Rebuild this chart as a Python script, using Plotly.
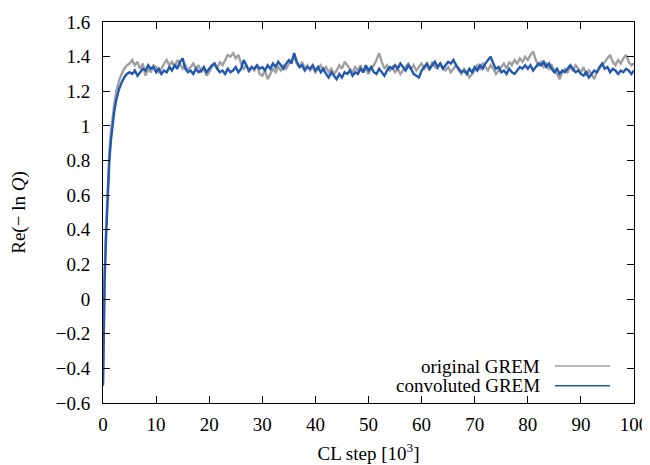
import numpy as np
import plotly.graph_objects as go

# ---- data ----
x_early = [0, 0.3, 0.6, 0.9, 1.2, 1.5, 1.8, 2.1, 2.5, 3.0, 3.5, 4.0, 4.5]
conv_early = [-0.50, 0.10, 0.38, 0.62, 0.80, 0.92, 1.01, 1.08, 1.15, 1.21, 1.25, 1.28, 1.30]
orig_early = [-0.48, 0.14, 0.43, 0.67, 0.85, 0.97, 1.06, 1.12, 1.20, 1.26, 1.30, 1.33, 1.35]

x_plateau = list(np.arange(5.0, 100.01, 0.5))

conv_plateau = [
    1.31, 1.30, 1.32, 1.29, 1.31, 1.33, 1.32, 1.35, 1.33, 1.34,
    1.31, 1.33, 1.30, 1.32, 1.31, 1.34, 1.32, 1.35, 1.33, 1.37,
    1.39, 1.33, 1.31, 1.32, 1.30, 1.33, 1.31, 1.32, 1.34, 1.31,
    1.33, 1.35, 1.36, 1.33, 1.31, 1.32, 1.30, 1.33, 1.31, 1.32,
    1.34, 1.31, 1.33, 1.38, 1.35, 1.32, 1.34, 1.33, 1.35, 1.33,
    1.34, 1.32, 1.35, 1.33, 1.36, 1.34, 1.37, 1.35, 1.33, 1.36,
    1.38, 1.36, 1.42, 1.37, 1.34, 1.35, 1.32, 1.34, 1.33, 1.35,
    1.32, 1.34, 1.31, 1.33, 1.30, 1.28, 1.31, 1.29, 1.27, 1.30,
    1.28, 1.31, 1.30, 1.32, 1.29, 1.31, 1.30, 1.33, 1.31, 1.35,
    1.32, 1.34, 1.31, 1.30, 1.33, 1.31, 1.29, 1.32, 1.34, 1.33,
    1.35, 1.33, 1.36, 1.34, 1.32, 1.35, 1.33, 1.30, 1.29, 1.28,
    1.32, 1.34, 1.36, 1.33, 1.35, 1.37, 1.34, 1.36, 1.33, 1.35,
    1.37, 1.36, 1.38, 1.35, 1.33, 1.31, 1.32, 1.30, 1.33, 1.31,
    1.34, 1.32, 1.35, 1.33, 1.36, 1.38, 1.40, 1.36, 1.33, 1.34,
    1.31, 1.32, 1.30, 1.33, 1.31, 1.30, 1.32, 1.34, 1.33, 1.35,
    1.33, 1.35, 1.32, 1.34, 1.36, 1.35, 1.37, 1.34, 1.36, 1.33,
    1.31, 1.33, 1.30, 1.32, 1.31, 1.33, 1.35, 1.33, 1.31, 1.32,
    1.30, 1.29, 1.31, 1.28, 1.30, 1.32, 1.31, 1.34, 1.36, 1.33,
    1.34, 1.31, 1.33, 1.32, 1.30, 1.32, 1.31, 1.33, 1.32, 1.30,
    1.32,
]

orig_plateau = [
    1.36, 1.38, 1.35, 1.37, 1.33, 1.36, 1.29, 1.33, 1.31, 1.35,
    1.34, 1.31, 1.33, 1.36, 1.38, 1.35, 1.37, 1.34, 1.38, 1.36,
    1.33, 1.35, 1.32, 1.34, 1.36, 1.33, 1.35, 1.31, 1.33, 1.29,
    1.31, 1.34, 1.36, 1.33, 1.37, 1.35, 1.38, 1.41, 1.40, 1.42,
    1.39, 1.41, 1.36, 1.33, 1.35, 1.31, 1.34, 1.32, 1.35, 1.30,
    1.29, 1.32, 1.27, 1.30, 1.33, 1.31, 1.34, 1.32, 1.35, 1.33,
    1.36, 1.38, 1.40, 1.36, 1.34, 1.37, 1.33, 1.35, 1.32, 1.34,
    1.31, 1.33, 1.35, 1.32, 1.34, 1.31, 1.33, 1.30, 1.32, 1.35,
    1.33, 1.37, 1.35, 1.33, 1.31, 1.34, 1.32, 1.35, 1.31, 1.33,
    1.30, 1.33, 1.35, 1.38, 1.42, 1.37, 1.33, 1.35, 1.32, 1.34,
    1.31, 1.33, 1.30, 1.32, 1.34, 1.36, 1.33, 1.35, 1.32, 1.34,
    1.36, 1.33, 1.35, 1.32, 1.37, 1.34, 1.33, 1.36, 1.34, 1.32,
    1.34, 1.31, 1.33, 1.35, 1.32, 1.30, 1.33, 1.31, 1.28, 1.30,
    1.32, 1.35, 1.33, 1.36, 1.34, 1.32, 1.35, 1.33, 1.30, 1.32,
    1.34, 1.36, 1.33, 1.37, 1.35, 1.38, 1.36, 1.39, 1.37, 1.40,
    1.38, 1.41, 1.43, 1.38, 1.35, 1.37, 1.34, 1.36, 1.33, 1.35,
    1.32, 1.30, 1.27, 1.31, 1.33, 1.31, 1.34, 1.32, 1.35, 1.33,
    1.31, 1.34, 1.29, 1.32, 1.30, 1.27, 1.31, 1.33, 1.35, 1.37,
    1.39, 1.41, 1.37, 1.35, 1.38, 1.36, 1.39, 1.41, 1.37, 1.35,
    1.36,
]

x_ticks = [0, 10, 20, 30, 40, 50, 60, 70, 80, 90, 100]
y_ticks = [-0.6, -0.4, -0.2, 0, 0.2, 0.4, 0.6, 0.8, 1.0, 1.2, 1.4, 1.6]
y_ticktext = ["\u22120.6", "\u22120.4", "\u22120.2", "0", "0.2", "0.4", "0.6",
              "0.8", "1", "1.2", "1.4", "1.6"]

labels = ["original GREM", "convoluted GREM"]
colors = ["#a0a0a0", "#2158b0"]

# ---- figure ----
x_all = x_early + x_plateau
series = [orig_early + orig_plateau, conv_early + conv_plateau]

font = "Liberation Serif, DejaVu Serif, serif"
fsize = 19
fig = go.Figure()
for name, ys, col in zip(labels, series, colors):
    fig.add_trace(go.Scatter(x=x_all, y=ys, mode="lines", name=name,
                             line=dict(color=col, width=2.4), showlegend=False))

# gnuplot-style legend (text then line sample)
leg_y = [0.097, 0.045]
for name, col, yy in zip(labels, colors, leg_y):
    fig.add_annotation(x=0.827, y=yy, xref="paper", yref="paper", text=name,
                       showarrow=False, xanchor="right", yanchor="middle",
                       font=dict(family=font, size=fsize, color="black"))
    fig.add_shape(type="line", xref="paper", yref="paper", x0=0.851, x1=0.955,
                  y0=yy, y1=yy, line=dict(color=col, width=1.5))

axis_common = dict(showline=True, linecolor="black", linewidth=1, mirror="ticks",
                   ticks="inside", ticklen=7, tickcolor="black", showgrid=False,
                   zeroline=False, automargin=False,
                   tickfont=dict(family=font, size=fsize, color="black"))

fig.update_xaxes(range=[0, 100], tickvals=x_ticks, ticklabelstandoff=4,
                 title=dict(text="CL step [10<sup>3</sup>]",
                            font=dict(family=font, size=fsize, color="black"),
                            standoff=12),
                 **axis_common)
fig.update_yaxes(range=[-0.6, 1.6], tickvals=y_ticks, ticktext=y_ticktext,
                 ticklabelstandoff=8,
                 title=dict(text="Re(\u2212 ln <i>Q</i>)",
                            font=dict(family=font, size=fsize, color="black"),
                            standoff=26),
                 **axis_common)

# the page body adds an 8px offset, so the figure is sized to fit the window
fig.update_layout(width=642, height=457, margin=dict(l=95, r=16, t=14, b=62),
                  plot_bgcolor="white", paper_bgcolor="white")

fig.write_html("out.html")
